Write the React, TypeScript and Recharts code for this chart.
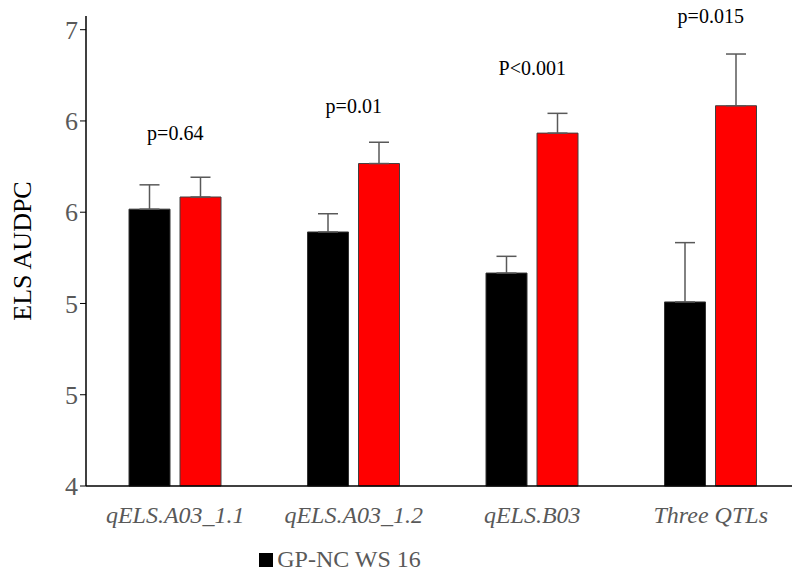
import React from "react";
import {
  Bar,
  ComposedChart,
  ErrorBar,
  LabelList,
  Legend,
  Line,
  XAxis,
  YAxis,
} from "recharts";

const categories = ["qELS.A03_1.1", "qELS.A03_1.2", "qELS.B03", "Three QTLs"];
const blackValues = [5.82, 5.67, 5.4, 5.21];
const blackErrors = [0.16, 0.12, 0.11, 0.39];
const redValues = [5.9, 6.12, 6.32, 6.5];
const redErrors = [0.13, 0.14, 0.13, 0.34];
const pLabels = ["p=0.64", "p=0.01", "P<0.001", "p=0.015"];
const pLabelY = [6.32, 6.5, 6.75, 7.09];
const yTicks = [4, 4.6, 5.2, 5.8, 6.4, 7];

const data = categories.map((name, i) => ({
  name,
  black: blackValues[i],
  blackErr: [0, blackErrors[i]],
  red: redValues[i],
  redErr: [0, redErrors[i]],
  pY: pLabelY[i],
  pText: pLabels[i],
}));

const font = '"Liberation Serif", "Times New Roman", serif';

function LegendBox() {
  return (
    <div style={{ display: "flex", justifyContent: "center", alignItems: "center", fontFamily: font, fontSize: 24, color: "#595959", marginLeft: -120 }}>
      <span style={{ width: 14, height: 14, background: "#000", display: "inline-block", marginRight: 4 }} />
      GP-NC WS 16
    </div>
  );
}

export default function App() {
  return (
    <div style={{ margin: -8, width: 800, height: 586, background: "#fff", fontFamily: font }}>
      <ComposedChart
        width={800}
        height={586}
        data={data}
        margin={{ top: 16, right: 0, left: 0, bottom: 0 }}
        barGap={10}
        barSize={41}
        style={{ fontFamily: font }}
      >
        <XAxis
          dataKey="name"
          tickLine={false}
          axisLine={{ stroke: "#000", strokeWidth: 1.5 }}
          tick={{ fill: "#595959", fontSize: 24, fontStyle: "italic", fontFamily: font }}
          tickMargin={14}
          height={60}
        />
        <YAxis
          domain={[4, 7]}
          ticks={yTicks}
          tickFormatter={(v: number) => String(Math.round(v))}
          width={86}
          axisLine={{ stroke: "#000", strokeWidth: 1.5 }}
          tickLine={{ stroke: "#000" }}
          tickSize={6}
          tick={{ fill: "#595959", fontSize: 26, fontFamily: font }}
          label={{ value: "ELS AUDPC", angle: -90, position: "insideLeft", offset: 22, style: { fill: "#000", fontSize: 26, fontFamily: font, textAnchor: "middle" } }}
        />
        <Legend content={LegendBox} verticalAlign="bottom" height={40} />
        <Bar dataKey="black" fill="#000" stroke="#333" isAnimationActive={false}>
          <ErrorBar dataKey="blackErr" direction="y" width={10} stroke="#595959" strokeWidth={1.5} />
        </Bar>
        <Bar dataKey="red" fill="#ff0000" stroke="#404040" isAnimationActive={false}>
          <ErrorBar dataKey="redErr" direction="y" width={10} stroke="#595959" strokeWidth={1.5} />
        </Bar>
        <Line dataKey="pY" stroke="none" dot={false} activeDot={false} legendType="none" isAnimationActive={false}>
          <LabelList dataKey="pText" position="center" style={{ fill: "#000", fontSize: 20, fontFamily: font }} />
        </Line>
      </ComposedChart>
    </div>
  );
}
